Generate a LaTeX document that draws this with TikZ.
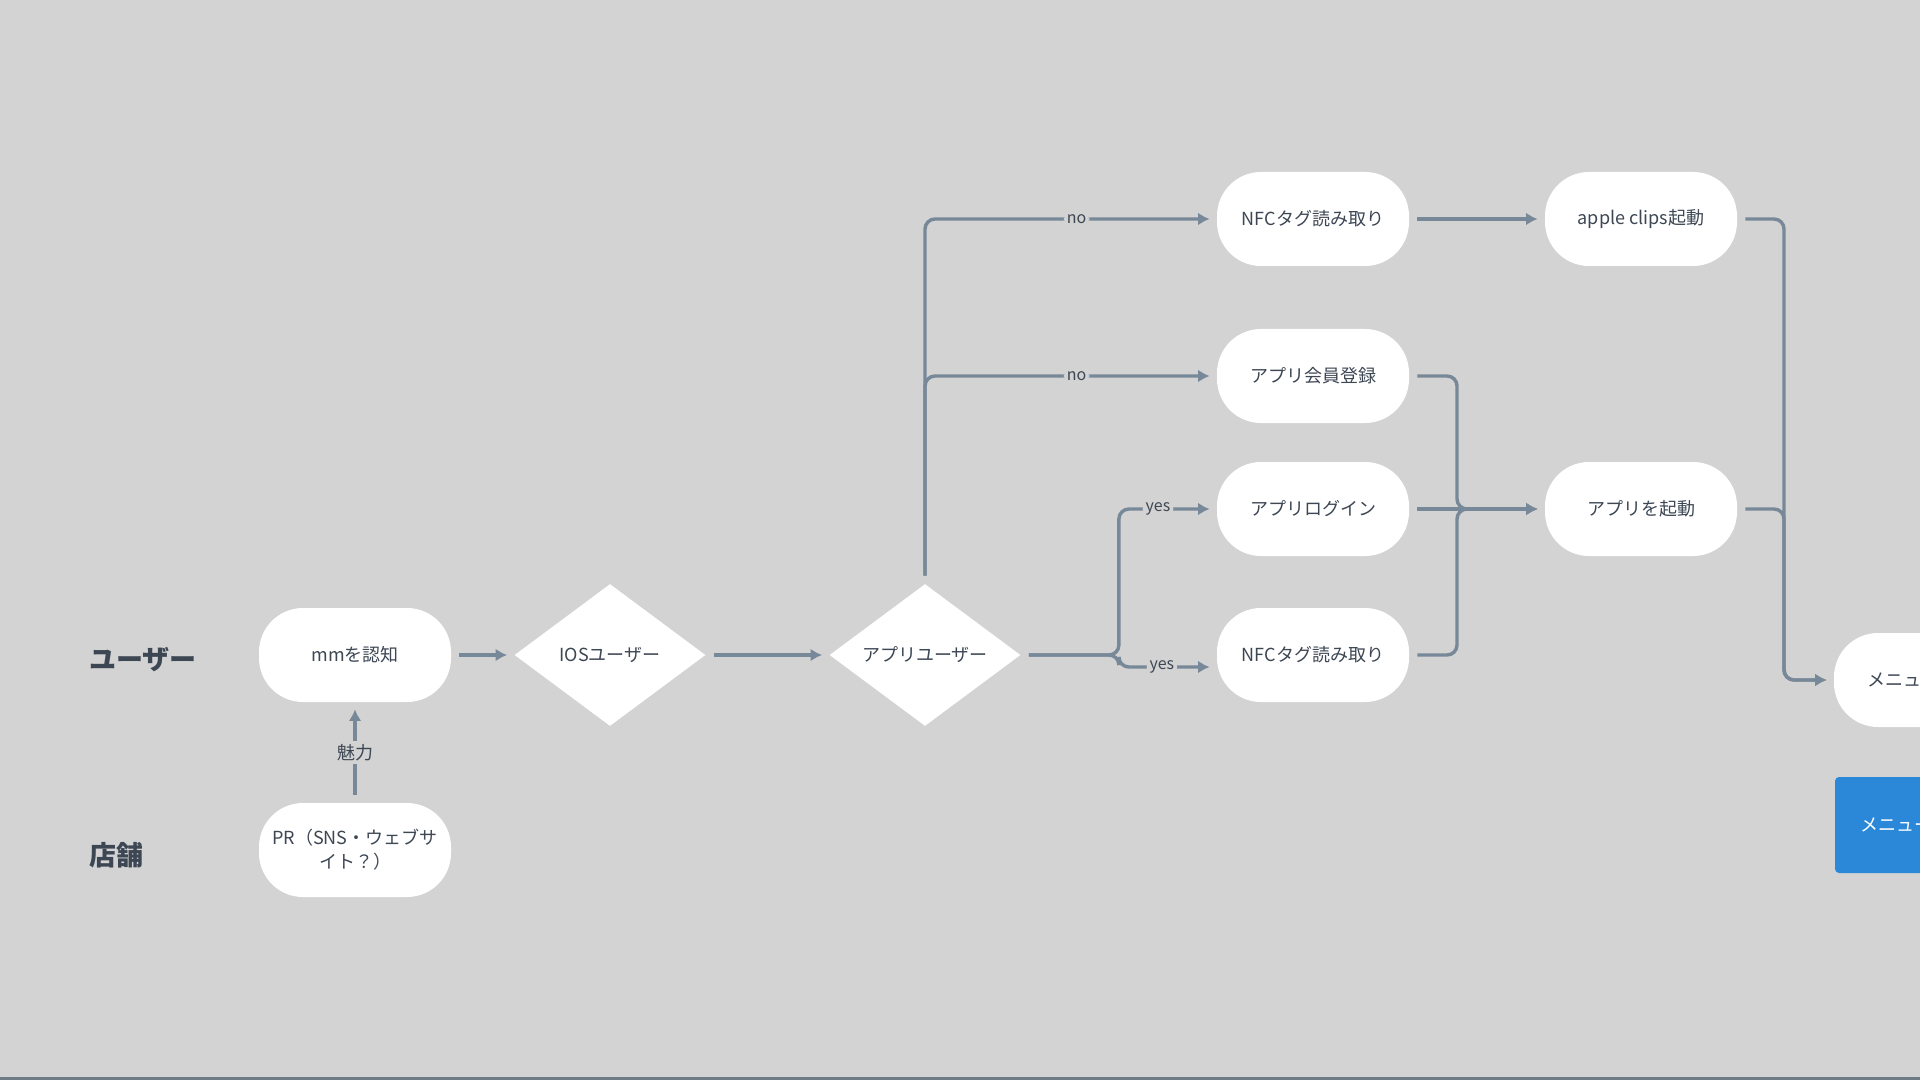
\documentclass[tikz,border=0pt]{standalone}
\usepackage{fontspec}
\setmainfont{Noto Sans CJK JP}
\usepackage{xcolor}
\usetikzlibrary{arrows.meta, shapes.geometric, positioning}
\definecolor{bg}{HTML}{D3D3D3}
\definecolor{wire}{HTML}{778899}
\definecolor{ink}{HTML}{3D4754}
\definecolor{menublue}{HTML}{2B88D8}
\definecolor{edge}{HTML}{6E7A84}
\tikzset{> = { Latex[length = 2mm, width = 2.2mm] }}
\tikzset{
  term/.style = {fill = white, rounded corners = 22pt, minimum width = 96pt, minimum height = 47pt, align = center, font = \fontsize{9}{12}\selectfont, text = ink},
  decision/.style = {diamond, fill = white, inner sep = 0pt, aspect = 1.35, minimum width = 95.5pt, minimum height = 71pt, font = \fontsize{9}{12}\selectfont, text = ink},
  lane/.style = {anchor = west, inner sep = 0pt, font = \fontsize{13.5}{15}\selectfont\bfseries, text = ink},
  flow/.style = {draw = wire, line width = 1.7pt, rounded corners = 5pt, shorten < = 4pt, shorten > = 3.5pt},
  lbl/.style = {fill = bg, inner sep = 1.5pt, font = \fontsize{8}{10}\selectfont, text = ink}
}
\begin{document}
\begin{tikzpicture}[x = 0.5pt, y = -0.5pt]
	\useasboundingbox (0, 0) rectangle (1920, 1080);
	\clip (0, 0) rectangle (1920, 1080);
	\fill [bg] (0, 0) rectangle (1920, 1080);
	\fill [edge] (0, 1077) rectangle (1920, 1080);

	% lanes
	\node [lane] (user) at (89, 660) {ユーザー};
	\node [lane] (shop) at (89, 855) {店舗};

	% nodes
	\node [term] (mm) at (355, 655) {mmを認知};
	\node [term] (pr) at (355, 850) {PR（SNS・ウェブサ\\イト？）};
	\node [decision] (ios) at (610, 655) {IOSユーザー};
	\node [decision] (appuser) at (925, 655) {アプリユーザー};
	\node [term] (nfcA) at (1313, 219) {NFCタグ読み取り};
	\node [term] (reg) at (1313, 376) {アプリ会員登録};
	\node [term] (login) at (1313, 509) {アプリログイン};
	\node [term] (nfcB) at (1313, 655) {NFCタグ読み取り};
	\node [term] (clips) at (1641, 219) {apple clips起動};
	\node [term] (launch) at (1641, 509) {アプリを起動};
	\node [term, text width = 63pt, align = left] (menu) at (1930, 680) {メニュー};
	\node [fill = menublue, text = white, rounded corners = 2pt, minimum width = 96pt, minimum height = 48pt, text width = 71pt, align = left, font = \fontsize{9}{12}\selectfont] (menuB) at (1931, 825) {メニュー};

	\coordinate (mergeL) at (1457, 509);
	\coordinate (mergeR) at (1784, 680);

	% connectors
	\draw [flow, ->] (pr.north) -- node[lbl, font = \fontsize{9}{12}\selectfont]{魅力} (mm.south);
	\draw [flow, ->] (mm.east) -- (ios.west);
	\draw [flow, ->] (ios.east) -- (appuser.west);
	\draw [flow, ->] (appuser.north) |- node[lbl, pos = 0.76]{no} (nfcA.west);
	\draw [flow, ->] (appuser.north) |- node[lbl, pos = 0.76]{no} (reg.west);
	\draw [flow, ->] (appuser.east) -- ++(98, 0) |- node[lbl, pos = 0.7]{yes} (login.west);
	\draw [flow, ->] (appuser.east) -- ++(98, 0) |- node[lbl, pos = 0.72]{yes} ([yshift = -6pt]nfcB.west);
	\draw [flow, ->] (nfcA.east) -- (clips.west);
	\draw [flow, ->] (reg.east) -| (mergeL) -- (launch.west);
	\draw [flow, ->] (login.east) -- (launch.west);
	\draw [flow, ->] (nfcB.east) -| (mergeL) -- (launch.west);
	\draw [flow, ->] (clips.east) -| (mergeR) -- (menu.west);
	\draw [flow, ->] (launch.east) -| (mergeR) -- (menu.west);
\end{tikzpicture}
\end{document}
